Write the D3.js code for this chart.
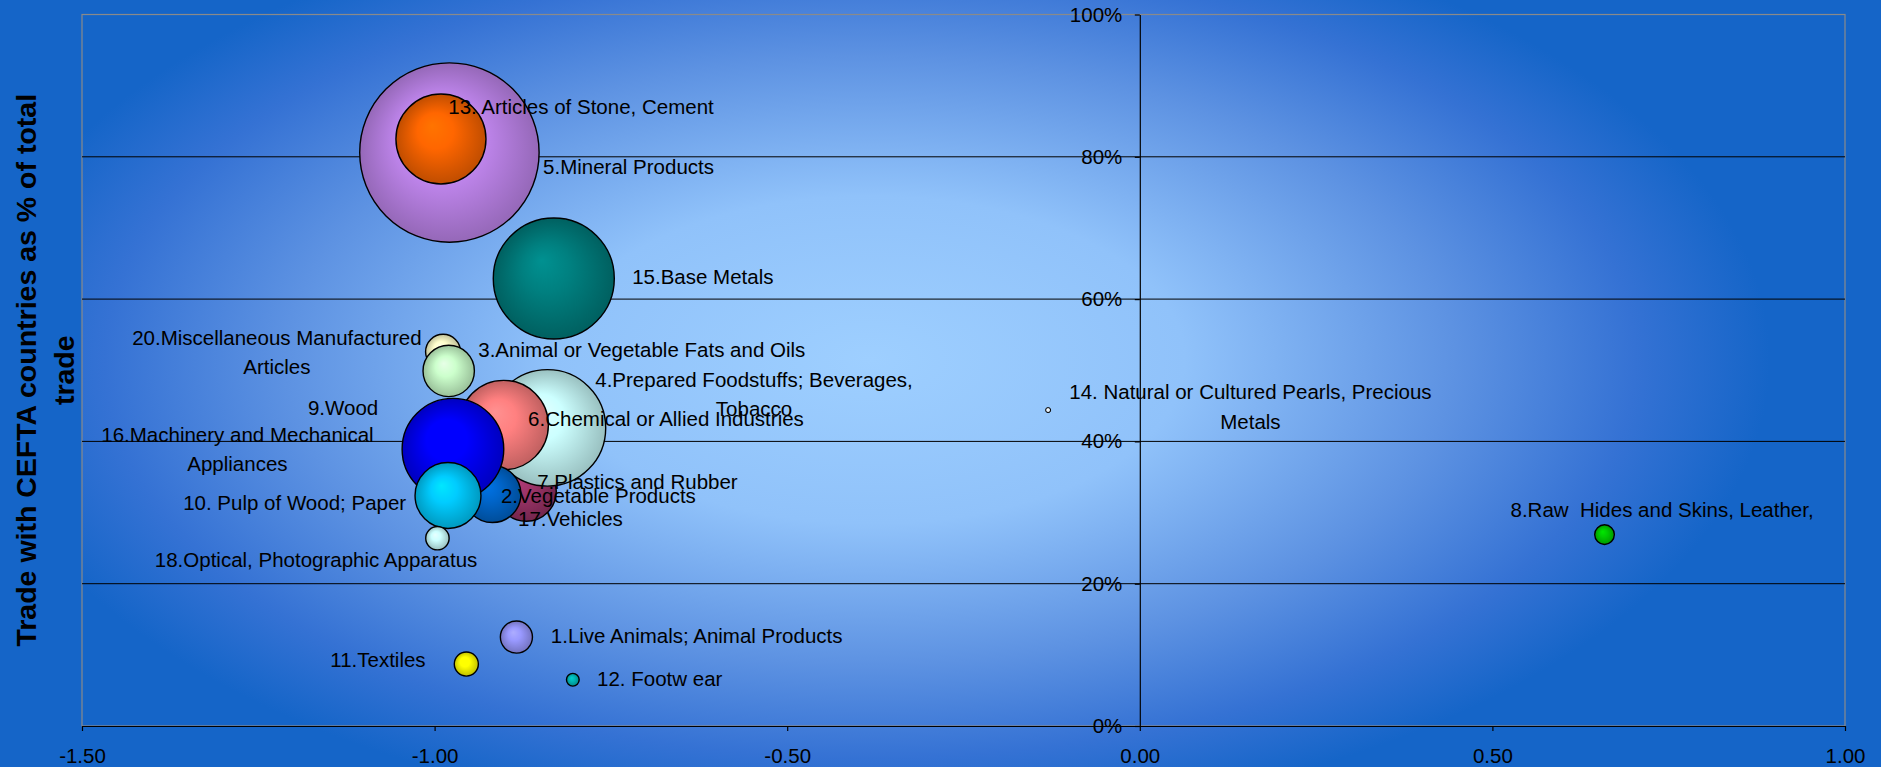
<!DOCTYPE html>
<html>
<head>
<meta charset="utf-8">
<script src="https://cdn.jsdelivr.net/npm/d3@7"></script>
<style>
html, body { margin: 0; padding: 0; background: #1565c8; overflow: hidden; }
text { font-family: "Liberation Sans", Arial, sans-serif; }
</style>
</head>
<body>
<svg id="chart" width="1881" height="767"></svg>
<script>
// HS sections : x index, share of trade with CEFTA, bubble = trade volume
let sections = [
    "1.Live Animals; Animal Products",
    "2.Vegetable Products",
    "3.Animal or Vegetable Fats and Oils",
    "4.Prepared Foodstuffs; Beverages,\nTobacco",
    "5.Mineral Products",
    "6.Chemical or Allied Industries",
    "7.Plastics and Rubber",
    "8.Raw  Hides and Skins, Leather,",
    "9.Wood",
    "10. Pulp of Wood; Paper",
    "11.Textiles",
    "12. Footw ear",
    "13. Articles of Stone, Cement",
    "14. Natural or Cultured Pearls, Precious\nMetals",
    "15.Base Metals",
    "16.Machinery and Mechanical\nAppliances",
    "17.Vehicles",
    "18.Optical, Photographic Apparatus",
    "20.Miscellaneous Manufactured\nArticles"
];
let xValues = [-0.884, -0.870, -0.988, -0.840, -0.979, -0.902, -0.918, 0.659, -0.992, -0.985,
               -0.955, -0.804, -0.991, -0.130, -0.831, -0.974, -0.981, -0.996, -0.980];
let yValues = [0.125, 0.330, 0.526, 0.419, 0.806, 0.423, 0.326, 0.269, 0.395, 0.332,
               0.087, 0.065, 0.825, 0.444, 0.629, 0.389, 0.324, 0.264, 0.499];
let tradeSize = [32, 112, 38, 422, 1000, 248, 101, 12, 60, 50,
                 18, 5, 252, 0.8, 455, 321, 135, 17, 82];
let xTicks = [-1.5, -1, -0.5, 0, 0.5, 1];
let yTicks = [0, 0.2, 0.4, 0.6, 0.8, 1];
let yTitle = ["Trade with CEFTA countries as % of total", "trade"];

// styles
let colors = ["#9999ff", "#993366", "#ffffcc", "#ccffff", "#c68af5", "#ff8080", "#0066cc", "#00cc00", "#000080", "#ff00ff",
              "#ffff00", "#00b8b8", "#ff6600", "#e8f4ff", "#008080", "#0000ff", "#00ccff", "#ccffff", "#ccffcc"];
// label offset from the bubble centre (px) and anchor
let labelLayout = [[34.4, 5.5, "start"], [-25.3, 12, "start"], [35.2, 5.7, "start"], [206.6, -41, "middle"],
                   [93.7, 21.7, "start"], [24.4, 0.7, "start"], [44.7, -5, "start"], [-94, -17.3, "start"],
                   [-62, -30, "end"], [-39, 20.7, "end"], [-40.7, 3.4, "end"], [24.2, 6, "start"],
                   [7.3, -24.7, "start"], [202.3, -10.7, "middle"], [78.4, 5.8, "start"], [-215.5, -7.4, "middle"],
                   [70, 30.7, "start"], [39.9, 28.4, "end"], [-171.8, -26, "middle"]];

let plot = {left: 82, right: 1845, top: 14.5, bottom: 726};
let fontSize = 20.5;

let svg = d3.select("#chart");
let defs = svg.append("defs");

// background
let bg = defs.append("radialGradient")
    .attr("id", "bg")
    .attr("gradientUnits", "userSpaceOnUse")
    .attr("cx", 870).attr("cy", 360).attr("r", 900)
    .attr("gradientTransform", "translate(870,360) scale(1,0.52) translate(-870,-360)");
[[0, "#9ecfff"], [0.35, "#90c2fa"], [0.65, "#5d92e2"], [0.85, "#3572d4"], [1, "#1565c8"]]
    .forEach(function(s){
        bg.append("stop").attr("offset", s[0]).attr("stop-color", s[1]);
    });

svg.append("rect").attr("width", 1881).attr("height", 767).attr("fill", "#1565c8");
svg.append("rect")
    .attr("x", plot.left).attr("y", 0)
    .attr("width", 1881 - plot.left).attr("height", 767)
    .attr("fill", "url(#bg)");

let x = d3.scaleLinear().domain([-1.5, 1]).range([plot.left, plot.right]);
let y = d3.scaleLinear().domain([0, 1]).range([plot.bottom, plot.top]);
let r = d3.scaleSqrt().domain([0, 1000]).range([0, 89.7]);

// plot border
svg.append("rect")
    .attr("x", plot.left).attr("y", plot.top)
    .attr("width", plot.right - plot.left).attr("height", plot.bottom - plot.top)
    .attr("fill", "none").attr("stroke", "#8a8a8a").attr("stroke-width", 1.2);

// gridlines
svg.append("g")
    .selectAll("line")
    .data(yTicks.filter(function(t){ return t > 0 && t < 1; }))
    .enter()
    .append("line")
    .attr("x1", plot.left).attr("x2", plot.right)
    .attr("y1", function(d){ return y(d); })
    .attr("y2", function(d){ return y(d); })
    .attr("stroke", "#000").attr("stroke-width", 1);

// axes
let xAxis = d3.axisBottom(x)
    .tickValues(xTicks)
    .tickFormat(function(d){ return d.toFixed(2); })
    .tickSize(5).tickSizeOuter(0).tickPadding(17);
let gx = svg.append("g")
    .attr("transform", "translate(0," + plot.bottom + ")")
    .call(xAxis);

let yAxis = d3.axisLeft(y)
    .tickValues(yTicks)
    .tickFormat(d3.format(".0%"))
    .tickSize(5).tickSizeOuter(0).tickPadding(12.5);
let gy = svg.append("g")
    .attr("transform", "translate(" + x(0) + ",0)")
    .call(yAxis);

[gx, gy].forEach(function(g){
    g.selectAll("path, line").attr("stroke", "#000").attr("stroke-width", 1.2);
    g.selectAll("text")
        .attr("fill", "#000")
        .style("font-size", fontSize + "px")
        .style("font-family", "'Liberation Sans', Arial, sans-serif");
});

// bubble gradients (3-D look, light spot upper left, darker rim)
colors.forEach(function(c, i){
    let g = defs.append("radialGradient")
        .attr("id", "b" + i)
        .attr("cx", "50%").attr("cy", "50%").attr("r", "50%")
        .attr("fx", "40%").attr("fy", "35%");
    g.append("stop").attr("offset", 0).attr("stop-color", d3.color(c).brighter(0.35));
    g.append("stop").attr("offset", 0.4).attr("stop-color", c);
    g.append("stop").attr("offset", 1).attr("stop-color", d3.color(c).darker(0.8));
});

let data = sections.map(function(name, i){
    return {name: name, x: xValues[i], y: yValues[i], size: tradeSize[i], i: i};
});

svg.append("g")
    .selectAll("circle")
    .data(data)
    .enter()
    .append("circle")
    .attr("cx", function(d){ return x(d.x); })
    .attr("cy", function(d){ return y(d.y); })
    .attr("r", function(d){ return r(d.size); })
    .attr("fill", function(d){ return "url(#b" + d.i + ")"; })
    .attr("stroke", "#000")
    .attr("stroke-width", function(d){ return r(d.size) < 4 ? 1 : 1.4; });

// labels
let labels = svg.append("g")
    .selectAll("text")
    .data(data)
    .enter()
    .append("text")
    .attr("x", function(d){ return x(d.x) + labelLayout[d.i][0]; })
    .attr("y", function(d){ return y(d.y) + labelLayout[d.i][1]; })
    .attr("text-anchor", function(d){ return labelLayout[d.i][2]; })
    .style("font-size", fontSize + "px")
    .style("white-space", "pre")
    .attr("fill", "#000");

labels.each(function(d){
    let t = d3.select(this);
    let cx = x(d.x) + labelLayout[d.i][0];
    d.name.split("\n").forEach(function(line, k){
        t.append("tspan")
            .attr("x", cx)
            .attr("dy", k == 0 ? 0 : 29.5)
            .text(line);
    });
});

// y title
let yMid = (plot.top + plot.bottom) / 2;
svg.append("g")
    .selectAll("text")
    .data(yTitle)
    .enter()
    .append("text")
    .attr("transform", function(d, i){ return "translate(" + (36 + i * 38) + "," + yMid + ") rotate(-90)"; })
    .attr("text-anchor", "middle")
    .style("font-size", "28.5px")
    .style("font-weight", "bold")
    .attr("fill", "#000")
    .text(function(d){ return d; });
</script>
</body>
</html>
